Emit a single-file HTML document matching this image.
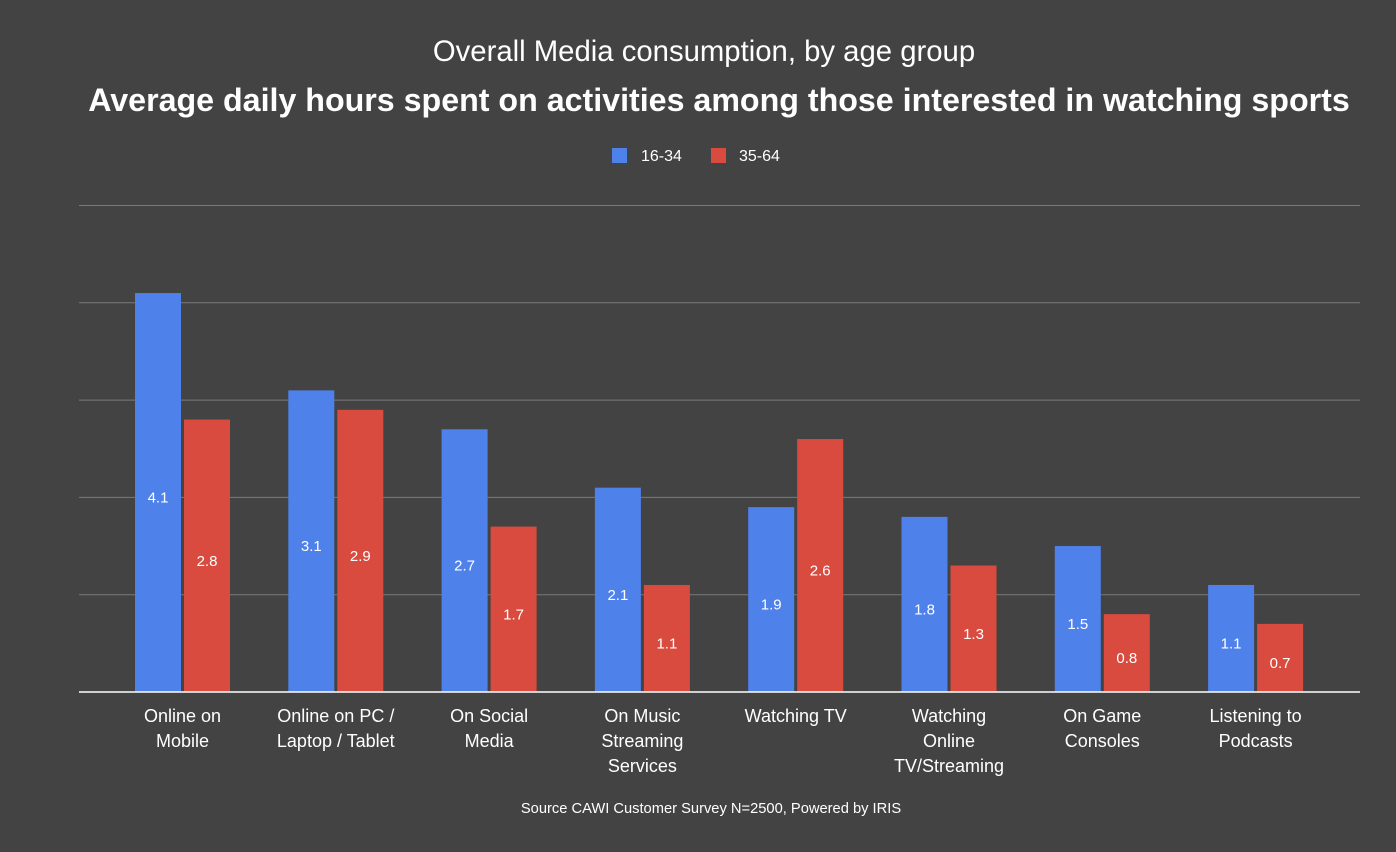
<!DOCTYPE html>
<html><head><meta charset="utf-8"><style>
body{margin:0;background:#434343;}
svg{display:block;font-family:"Liberation Sans",Arial,sans-serif;}
</style></head><body>
<svg id="c" width="1396" height="852" viewBox="0 0 1396 852">
<rect width="1396" height="852" fill="#434343"/>
<text x="704" y="61" text-anchor="middle" fill="#fff" font-size="29.3">Overall Media consumption, by age group</text>
<text x="719" y="111" text-anchor="middle" fill="#fff" font-size="32.2" font-weight="bold">Average daily hours spent on activities among those interested in watching sports</text>
<g>
<rect x="612" y="148" width="15" height="15" fill="#4f81eb"/>
<text x="641" y="161" fill="#fff" font-size="16">16-34</text>
<rect x="711" y="148" width="15" height="15" fill="#d94b3f"/>
<text x="739" y="161" fill="#fff" font-size="16">35-64</text>
</g>
<g id="grid"></g><g id="bars"></g><g id="xl"></g>
<line x1="79" y1="692" x2="1360" y2="692" stroke="#fff" stroke-width="1.5"/>
<text x="711" y="813" text-anchor="middle" fill="#fff" font-size="14.7">Source CAWI Customer Survey N=2500, Powered by IRIS</text>
</svg>
<script>
const categories=[["Online on","Mobile"],["Online on PC /","Laptop / Tablet"],["On Social","Media"],["On Music","Streaming","Services"],["Watching TV"],["Watching","Online","TV/Streaming"],["On Game","Consoles"],["Listening to","Podcasts"]];
const young=[4.1,3.1,2.7,2.1,1.9,1.8,1.5,1.1];
const older=[2.8,2.9,1.7,1.1,2.6,1.3,0.8,0.7];
const gridTicks=[1,2,3,4,5];
const NS="http://www.w3.org/2000/svg";
const y=v=>692-v*97.3;
const xc=i=>182.5+i*153.3;
function mk(tag,attrs,parent,txt){const e=document.createElementNS(NS,tag);for(const k in attrs)e.setAttribute(k,attrs[k]);if(txt!==undefined)e.textContent=txt;document.getElementById(parent).appendChild(e);return e;}
gridTicks.forEach(t=>{const l=mk('line',{x1:79,x2:1360,y1:y(t),y2:y(t),stroke:'#7a7a7a','stroke-width':1},'grid');

});
categories.forEach((c,i)=>{
 [[young,'#4f81eb',-47.5,'16-34'],[older,'#d94b3f',1.5,'35-64']].forEach(([arr,col,off,s])=>{
  const v=arr[i];const r=mk('rect',{x:xc(i)+off,y:y(v),width:46,height:692-y(v),fill:col},'bars');
  
  
  const t=mk('text',{x:xc(i)+off+23,y:(y(v)+692)/2+10,'text-anchor':'middle',fill:'#fff','font-size':15},'bars',v.toFixed(1));
  
  
 });
 c.forEach((ln,j)=>{const t=mk('text',{x:xc(i),y:722+j*25,'text-anchor':'middle',fill:'#fff','font-size':18},'xl',ln);
 
 });
});
</script>
</body></html>
